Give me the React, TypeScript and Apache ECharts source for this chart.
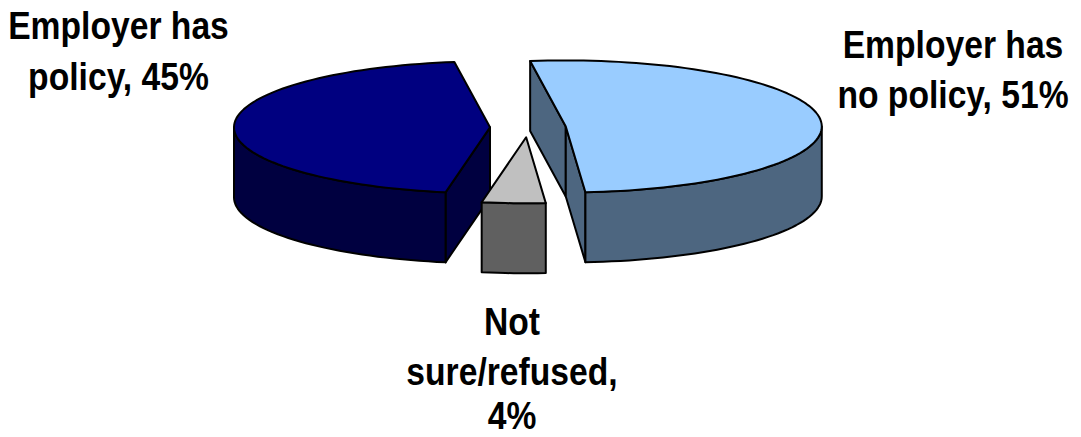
import React, { useEffect, useRef } from "react";
import * as echarts from "echarts";

// Survey shares, in clockwise drawing order (back slices painted first).
const sliceNames = ["Employer has policy", "Employer has no policy", "Not sure/refused"];
const sliceValues = [45, 51, 4];
const labelLines = [
  ["Employer has", "policy, {v}%"],
  ["Employer has", "no policy, {v}%"],
  ["Not", "sure/refused,", "{v}%"],
];
const topColors = ["#000080", "#99ccff", "#c0c0c0"];
const sideColors = ["#000040", "#4d6680", "#606060"];

// Projection of the tilted pie onto the canvas.
const CX = 528;
const CY = 127.5;
const RX = 256;
const RY = 66;
const DEPTH = 70;
const EXPLODE = 38;
const START_DEG = 190;

// Centre x of each label and the baseline of each of its lines.
const labelCenterX = [118.5, 953, 512];
const labelBaselines = [
  [39, 90],
  [58, 108],
  [335, 385, 429],
];
const FONT_SIZE = 38;
const BASELINE_TO_BOX_BOTTOM = 6.5;
const TEXT_SCALE_X = 0.886;

const total = sliceValues.reduce((a, b) => a + b, 0);
const rad = (d: number) => (d * Math.PI) / 180;

function renderSlice(params: any, api: any) {
  const i = params.dataIndex;
  const value = api.value(0);
  const before = sliceValues.slice(0, i).reduce((a, b) => a + b, 0);
  const a0 = START_DEG + (before / total) * 360;
  const a1 = a0 + (value / total) * 360;
  const mid = rad((a0 + a1) / 2);
  const cx = CX + EXPLODE * Math.sin(mid);
  const cy = CY - (EXPLODE * Math.cos(mid) * RY) / RX;
  const rim = (deg: number, drop = 0): number[] => [
    cx + RX * Math.sin(rad(deg)),
    cy - RY * Math.cos(rad(deg)) + drop,
  ];
  const arc = (from: number, to: number, drop = 0) => {
    const pts: number[][] = [];
    const n = Math.max(2, Math.ceil(Math.abs(to - from) / 2));
    for (let k = 0; k <= n; k++) pts.push(rim(from + ((to - from) * k) / n, drop));
    return pts;
  };
  const line = { stroke: "#000", lineWidth: 2, lineJoin: "round" };
  const children: any[] = [];
  const poly = (points: number[][], fill: string) =>
    children.push({ type: "polygon", shape: { points }, style: { ...line, fill } });
  const side = sideColors[i];

  // Flat cut faces, only those turned towards the viewer.
  const s = rim(a0);
  if (s[0] < cx) poly([s, [cx, cy], [cx, cy + DEPTH], [s[0], s[1] + DEPTH]], side);
  const e = rim(a1);
  if (e[0] > cx) poly([[cx, cy], e, [e[0], e[1] + DEPTH], [cx, cy + DEPTH]], side);

  // Outer wall along the part of the rim nearest the viewer.
  const norm = (d: number) => ((d % 360) + 360) % 360;
  let wallFrom = a0;
  let wallTo = a1;
  if (norm(a0) > 270 || norm(a0) < 90) wallFrom = a0 + ((90 - norm(a0) + 360) % 360);
  if (norm(a1) > 270 || norm(a1) < 90) wallTo = a1 - ((norm(a1) - 270 + 360) % 360);
  if (wallTo > wallFrom) {
    poly([...arc(wallFrom, wallTo), ...arc(wallTo, wallFrom, DEPTH)], side);
  }

  // Top face.
  poly([[cx, cy], ...arc(a0, a1)], topColors[i]);

  // Slice label, one text element per line.
  labelLines[i].forEach((textLine, k) => {
    children.push({
      type: "text",
      x: labelCenterX[i],
      y: labelBaselines[i][k] + BASELINE_TO_BOX_BOTTOM,
      scaleX: TEXT_SCALE_X,
      style: {
        text: textLine.replace("{v}", String(value)),
        textAlign: "center",
        textVerticalAlign: "bottom",
        fontFamily: "'Liberation Sans', Arial, sans-serif",
        fontWeight: "bold",
        fontSize: FONT_SIZE,
        fill: "#000",
      },
    });
  });
  return { type: "group", children };
}

export default function App() {
  const ref = useRef<HTMLDivElement>(null);
  useEffect(() => {
    const chart = echarts.init(ref.current!, undefined, { renderer: "svg" });
    chart.setOption({
      animation: false,
      backgroundColor: "#fff",
      series: [
        {
          type: "custom",
          coordinateSystem: "none",
          silent: true,
          renderItem: renderSlice,
          data: sliceValues.map((value, i) => ({ name: sliceNames[i], value: [value] })),
        },
      ],
    });
    return () => chart.dispose();
  }, []);
  return <div ref={ref} style={{ position: "fixed", left: 0, top: 0, width: 1081, height: 437 }} />;
}
